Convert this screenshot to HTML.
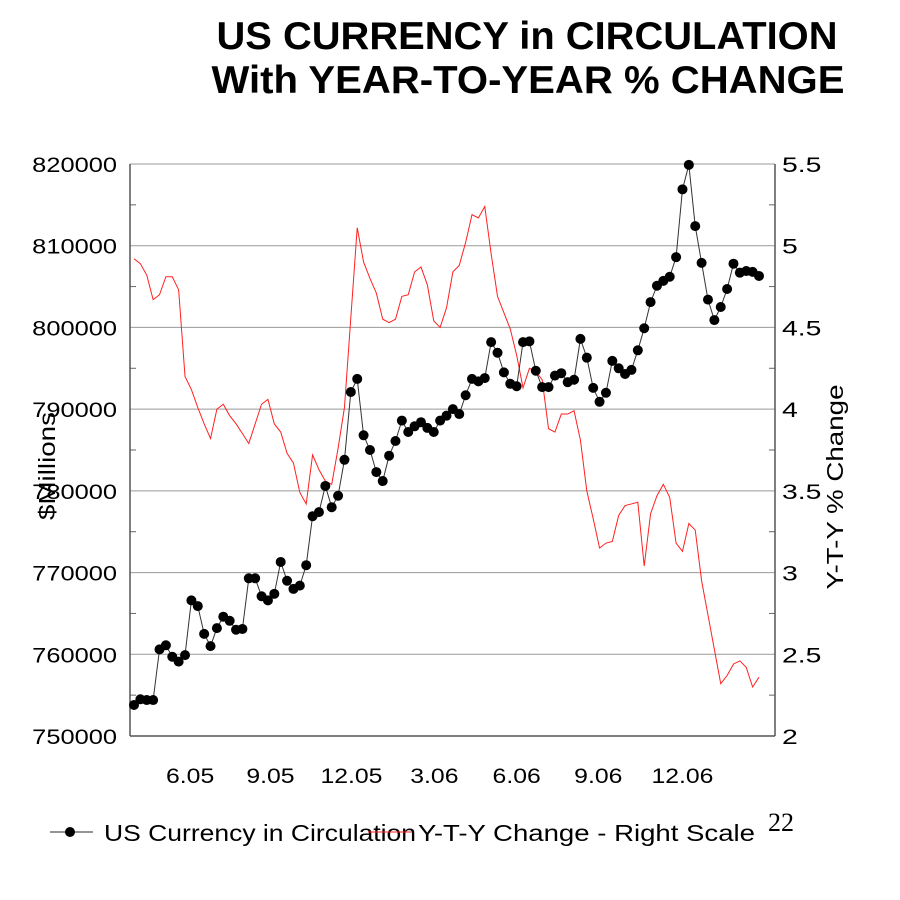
<!DOCTYPE html>
<html><head><meta charset="utf-8">
<style>
html,body{margin:0;padding:0;background:#fff;}
svg{display:block;font-family:"Liberation Sans",Arial,sans-serif;}
</style></head>
<body>
<svg id="chart" width="900" height="900" viewBox="0 0 900 900">
<text x="527" y="49" font-size="39" font-weight="bold" text-anchor="middle" textLength="621" lengthAdjust="spacingAndGlyphs">US CURRENCY in CIRCULATION</text>
<text x="528" y="93" font-size="39" font-weight="bold" text-anchor="middle" textLength="633" lengthAdjust="spacingAndGlyphs">With YEAR-TO-YEAR % CHANGE</text>
<g id="grid"></g>
<g id="axes"></g>
<g id="series"></g>
<text transform="translate(55,466) rotate(-90)" font-size="23" text-anchor="middle" textLength="108" lengthAdjust="spacingAndGlyphs">$Millions</text>
<text transform="translate(843,487) rotate(-90)" font-size="23" text-anchor="middle" textLength="205" lengthAdjust="spacingAndGlyphs">Y-T-Y % Change</text>
<g>
<line x1="50" y1="832" x2="93" y2="832" stroke="#555" stroke-width="1.2"/>
<circle cx="70" cy="832" r="5" fill="#000"/>
<text x="104" y="841" font-size="23" textLength="312" lengthAdjust="spacingAndGlyphs">US Currency in Circulation</text>
<line x1="368" y1="832" x2="412" y2="832" stroke="#ff2020" stroke-width="1"/>
<text x="418" y="841" font-size="23" textLength="337" lengthAdjust="spacingAndGlyphs">Y-T-Y Change - Right Scale</text>
</g>
<text x="768" y="831" font-size="26" font-family="'Liberation Serif',serif">22</text>
</svg>
<script>
const currency = [753800,754500,754400,754400,760600,761100,759700,759100,759900,766600,765900,762500,761000,763200,764600,764100,763000,763100,769300,769300,767100,766600,767400,771300,769000,768000,768400,770900,776900,777400,780600,778000,779400,783800,792100,793700,786800,785000,782300,781200,784300,786100,788600,787200,787900,788400,787700,787200,788600,789200,790000,789400,791700,793700,793400,793800,798200,796900,794500,793100,792800,798200,798300,794700,792700,792700,794100,794400,793300,793600,798600,796300,792600,790900,792000,795900,795000,794300,794800,797200,799900,803100,805100,805700,806200,808600,816900,819900,812400,807900,803400,800900,802500,804700,807800,806700,806900,806800,806300];
const ytyChange = [4.92,4.89,4.82,4.67,4.70,4.81,4.81,4.73,4.20,4.12,4.01,3.91,3.82,4.00,4.03,3.96,3.91,3.85,3.79,3.91,4.03,4.06,3.91,3.86,3.73,3.67,3.49,3.42,3.72,3.63,3.56,3.54,3.76,4.01,4.56,5.11,4.90,4.80,4.71,4.55,4.53,4.55,4.69,4.70,4.84,4.87,4.76,4.54,4.50,4.62,4.84,4.88,5.02,5.19,5.17,5.24,4.95,4.69,4.59,4.49,4.33,4.13,4.25,4.23,4.18,3.88,3.86,3.97,3.97,3.99,3.81,3.50,3.33,3.15,3.18,3.19,3.35,3.41,3.42,3.43,3.04,3.36,3.47,3.54,3.46,3.18,3.13,3.30,3.26,2.95,2.74,2.53,2.32,2.37,2.44,2.46,2.42,2.30,2.36];
const leftTicks = [750000,760000,770000,780000,790000,800000,810000,820000];
const rightTicks = [2,2.5,3,3.5,4,4.5,5,5.5];
const xTickLabels = ["6.05","9.05","12.05","3.06","6.06","9.06","12.06"];
const xTickIndex = [8.8,21.4,34.1,47.1,60,72.8,86];

const L=130,R=775,T=164,B=736;
const NS="http://www.w3.org/2000/svg";
const yL=v=>B-(v-750000)/70000*(B-T);
const yR=v=>B-(v-2)/3.5*(B-T);
const xI=i=>134+i*(759-134)/(currency.length-1);
function mk(tag,attrs,parent){const e=document.createElementNS(NS,tag);for(const k in attrs)e.setAttribute(k,attrs[k]);parent.appendChild(e);return e;}
function stretch(t,k){const w=t.getComputedTextLength();t.setAttribute('textLength',(w*k).toFixed(1));t.setAttribute('lengthAdjust','spacingAndGlyphs');}
const grid=document.getElementById('grid'),axes=document.getElementById('axes'),series=document.getElementById('series');

leftTicks.forEach((v,i)=>{
  const y=yL(v);
  const g=mk('line',{x1:L,x2:R,y1:y,y2:y,stroke:'#999','stroke-width':1},grid);
  
  
  const t=mk('text',{x:117,y:y+8,'font-size':21,'text-anchor':'end'},axes);
  t.textContent=v;
  
  
  stretch(t,1.21);
  if(i<leftTicks.length-1){
    const ym=yL(v+5000);
    const m=mk('line',{x1:L,x2:L+6,y1:ym,y2:ym,stroke:'#666'},axes);
    
    
    const m2=mk('line',{x1:R-6,x2:R,y1:ym,y2:ym,stroke:'#666'},axes);
    
    
  }
});
rightTicks.forEach(v=>{
  const t=mk('text',{x:782,y:yR(v)+8,'font-size':21},axes);
  t.textContent=v;
  
  
  stretch(t,1.35);
});
xTickLabels.forEach((s,i)=>{
  const t=mk('text',{x:xI(xTickIndex[i]),y:783,'font-size':21,'text-anchor':'middle'},axes);
  t.textContent=s;
  
  
  stretch(t,1.18);
});
const la=mk('line',{x1:L,x2:L,y1:T,y2:B,stroke:'#555','stroke-width':1.5},axes);


const ra=mk('line',{x1:R,x2:R,y1:T,y2:B,stroke:'#555','stroke-width':1.5},axes);


const ba=mk('line',{x1:L,x2:R,y1:B,y2:B,stroke:'#555','stroke-width':1.5},axes);



const red=mk('polyline',{points:ytyChange.map((v,i)=>xI(i)+','+yR(v)).join(' '),fill:'none',stroke:'#ff2020','stroke-width':1},series);


const blk=mk('polyline',{points:currency.map((v,i)=>xI(i)+','+yL(v)).join(' '),fill:'none',stroke:'#333','stroke-width':1},series);


currency.forEach((v,i)=>{
  const c=mk('circle',{cx:xI(i),cy:yL(v),r:5,fill:'#000'},series);
  
  
});
</script>
</body></html>
